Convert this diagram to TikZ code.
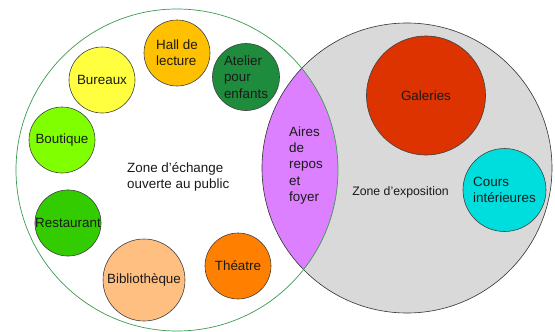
\documentclass[tikz,border=0pt]{standalone}
\usepackage{fontspec}
\setmainfont{Liberation Sans}[Ligatures=ResetAll]
\definecolor{zonegray}{HTML}{D9D9D9}
\definecolor{lensmag}{HTML}{DD80FF}
\definecolor{zonegreen}{HTML}{3A9A4E}
\definecolor{cHall}{HTML}{FFC000}
\definecolor{cBur}{HTML}{FFFF40}
\definecolor{cAtel}{HTML}{1E8C3C}
\definecolor{cBout}{HTML}{80FF00}
\definecolor{cRest}{HTML}{33CC00}
\definecolor{cBib}{HTML}{FFBF80}
\definecolor{cThe}{HTML}{FF8000}
\definecolor{cGal}{HTML}{DD3300}
\definecolor{cCours}{HTML}{00DDDD}
\definecolor{txt}{HTML}{1A1A1A}
\tikzset{
  room/.style={circle, draw=black!75, line width=0.6pt, inner sep=0pt, text=txt,
    font=\fontsize{13.4}{16.4}\selectfont, align=center},
  roomleft/.style={room, align=left},
  zonelabel/.style={inner sep=0pt, text=txt, font=\fontsize{13.4}{16.4}\selectfont, align=left}
}
\begin{document}
\begin{tikzpicture}[x=1pt,y=-1pt]
\useasboundingbox (0,0) rectangle (555,332);
% zones
\coordinate (gc) at (177,170);
\coordinate (ec) at (407,168);
\fill[zonegray] (ec) circle (145);
\begin{scope}
  \clip (ec) circle (145);
  \fill[lensmag] (gc) circle (161);
\end{scope}
\draw[black!80, line width=0.6pt] (ec) circle (145);
\draw[zonegreen, line width=0.7pt] (gc) circle (161);
% rooms
\node[roomleft, fill=cHall, minimum size=66pt] (hall) at (177,53) {Hall de\\lecture};
\node[room, fill=cBur, minimum size=66pt] (bur) at (102,80) {Bureaux};
\node[roomleft, fill=cAtel, minimum size=67pt] (atel) at (246,77) {Atelier\\pour\\enfants};
\node[room, fill=cBout, minimum size=66pt] (bout) at (62,140) {Boutique};
\node[room, fill=cRest, minimum size=66pt] (rest) at (68,223) {Restaurant};
\node[room, fill=cBib, minimum size=82pt] (bib) at (144,280) {Biblioth\`eque};
\node[room, fill=cThe, minimum size=66pt] (the) at (238,266) {Th\'eatre};
\node[room, fill=cGal, minimum size=119pt] (gal) at (426,95.5) {Galeries};
\node[roomleft, fill=cCours, minimum size=83pt] (cours) at (504.5,190) {Cours\\int\'erieures};
% labels
\node[zonelabel, anchor=west] (ech) at (127,177) {Zone d'\'echange\\ouverte au public};
\node[zonelabel, anchor=west] (aires) at (289,165.5) {Aires\\de\\repos\\et\\foyer};
\node[zonelabel, font=\fontsize{12.3}{15}\selectfont] (expo) at (400.5,192) {Zone d'exposition};
\end{tikzpicture}
\end{document}
